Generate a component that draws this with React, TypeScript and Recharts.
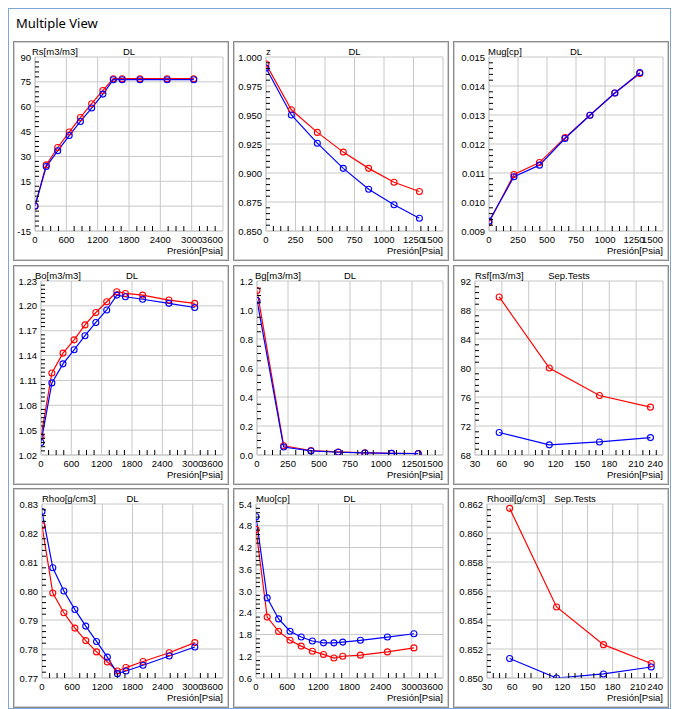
import React from "react";
import { LineChart, Line, XAxis, YAxis, ReferenceLine } from "recharts";

// pressures (psia)
const dlPressure = [0, 215, 435, 655, 870, 1085, 1300, 1500, 1670, 2010, 2530, 3040];
const gasPressure = [0, 215, 435, 655, 870, 1085, 1300];
const sepPressure = [57, 113, 169, 226];

// x tick labels
const dlTicks = [0, 600, 1200, 1800, 2400, 3000, 3600];
const gasTicks = [0, 250, 500, 750, 1000, 1250, 1500];
const sepTicks = [30, 60, 90, 120, 150, 180, 210, 240];

// series (red = lab, blue = model)
const rsRed = [0, 24.9, 35.4, 44.7, 53.5, 61.8, 69.8, 76.9, 76.9, 76.9, 76.9, 76.9];
const rsBlue = [0.1, 23.9, 33.4, 42.6, 51.1, 59.2, 67.6, 76.3, 76.3, 76.3, 76.3, 76.3];
const zRed = [0.994, 0.9545, 0.935, 0.918, 0.904, 0.892, 0.884];
const zBlue = [0.9905, 0.950, 0.9257, 0.904, 0.886, 0.8726, 0.861];
const mugRed = [0.00929, 0.01095, 0.01136, 0.01222, 0.01299, 0.01376, 0.01443];
const mugBlue = [0.00934, 0.01087, 0.01127, 0.01219, 0.01299, 0.01376, 0.01446];
const boRed = [1.042, 1.119, 1.143, 1.159, 1.177, 1.192, 1.205, 1.217, 1.215, 1.213, 1.207, 1.203];
const boBlue = [1.035, 1.107, 1.13, 1.147, 1.164, 1.18, 1.195, 1.213, 1.211, 1.208, 1.203, 1.198];
const bgRed = [1.135, 0.064, 0.031, 0.021, 0.015, 0.012, 0.01];
const bgBlue = [1.066, 0.055, 0.028, 0.019, 0.014, 0.011, 0.009];
const rsfRed = [89.8, 80.0, 76.2, 74.6];
const rsfBlue = [71.1, 69.4, 69.8, 70.4];
const rhooRed = [0.8225, 0.7993, 0.7925, 0.7872, 0.7829, 0.779, 0.7755, 0.7724, 0.7736, 0.7757, 0.7787, 0.7822];
const rhooBlue = [0.8274, 0.808, 0.8, 0.7936, 0.7879, 0.7826, 0.7772, 0.7715, 0.7724, 0.7744, 0.7776, 0.7807];
const muoRed = [4.7, 2.28, 1.885, 1.64, 1.48, 1.34, 1.25, 1.15, 1.2, 1.23, 1.32, 1.43];
const muoBlue = [5.05, 2.81, 2.23, 1.89, 1.73, 1.62, 1.57, 1.57, 1.59, 1.64, 1.73, 1.82];
const rhooilRed = [0.8617, 0.8549, 0.8523, 0.851];
const rhooilBlue = [0.85134, 0.8500, 0.85028, 0.85076];

// y tick labels
const rsTicks = [-15, 0, 15, 30, 45, 60, 75, 90];
const zTicks = [0.85, 0.875, 0.9, 0.925, 0.95, 0.975, 1.0];
const mugTicks = [0.009, 0.01, 0.011, 0.012, 0.013, 0.014, 0.015];
const boTicks = [1.02, 1.05, 1.08, 1.11, 1.14, 1.17, 1.2, 1.23];
const bgTicks = [0, 0.2, 0.4, 0.6, 0.8, 1.0, 1.2];
const rsfTicks = [68, 72, 76, 80, 84, 88, 92];
const rhooTicks = [0.77, 0.78, 0.79, 0.8, 0.81, 0.82, 0.83];
const muoTicks = [0.6, 1.2, 1.8, 2.4, 3.0, 3.6, 4.2, 4.8, 5.4];
const rhooilTicks = [0.85, 0.852, 0.854, 0.856, 0.858, 0.86, 0.862];

const FONT = "'Liberation Sans', Arial, sans-serif";
const FS = 9.5;
const GRID = "#c8c8c8";
const CW = 212;
const CH = 216;
const TOP = 14;
const RIGHT = 4;
const XH = 28;

type PanelDef = {
  title: string;
  test: string;
  xs: number[];
  red: number[];
  blue: number[];
  xTicks: number[];
  xMinor: number;
  yTicks: number[];
  yMinor: number;
  dec: number;
  yWidth: number;
  titleDx: number;
};

const panels: PanelDef[] = [
  { title: "Rs[m3/m3]", test: "DL", xs: dlPressure, red: rsRed, blue: rsBlue, xTicks: dlTicks, xMinor: 4, yTicks: rsTicks, yMinor: 5, dec: 0, yWidth: 20, titleDx: -3 },
  { title: "z", test: "DL", xs: gasPressure, red: zRed, blue: zBlue, xTicks: gasTicks, xMinor: 4, yTicks: zTicks, yMinor: 5, dec: 3, yWidth: 31, titleDx: 0 },
  { title: "Mug[cp]", test: "DL", xs: gasPressure, red: mugRed, blue: mugBlue, xTicks: gasTicks, xMinor: 4, yTicks: mugTicks, yMinor: 5, dec: 3, yWidth: 34, titleDx: -1 },
  { title: "Bo[m3/m3]", test: "DL", xs: dlPressure, red: boRed, blue: boBlue, xTicks: dlTicks, xMinor: 4, yTicks: boTicks, yMinor: 6, dec: 2, yWidth: 26, titleDx: -6 },
  { title: "Bg[m3/m3]", test: "DL", xs: gasPressure, red: bgRed, blue: bgBlue, xTicks: gasTicks, xMinor: 4, yTicks: bgTicks, yMinor: 4, dec: 1, yWidth: 22, titleDx: -2 },
  { title: "Rsf[m3/m3]", test: "Sep.Tests", xs: sepPressure, red: rsfRed, blue: rsfBlue, xTicks: sepTicks, xMinor: 4, yTicks: rsfTicks, yMinor: 5, dec: 0, yWidth: 20, titleDx: 0 },
  { title: "Rhoo[g/cm3]", test: "DL", xs: dlPressure, red: rhooRed, blue: rhooBlue, xTicks: dlTicks, xMinor: 4, yTicks: rhooTicks, yMinor: 5, dec: 2, yWidth: 27, titleDx: 0 },
  { title: "Muo[cp]", test: "DL", xs: dlPressure, red: muoRed, blue: muoBlue, xTicks: dlTicks, xMinor: 4, yTicks: muoTicks, yMinor: 5, dec: 1, yWidth: 21, titleDx: 0 },
  { title: "Rhooil[g/cm3]", test: "Sep.Tests", xs: sepPressure, red: rhooilRed, blue: rhooilBlue, xTicks: sepTicks, xMinor: 4, yTicks: rhooilTicks, yMinor: 5, dec: 3, yWidth: 32, titleDx: 0 },
];

function withMinor(major: number[], sub: number) {
  const out: number[] = [];
  for (let i = 0; i < major.length - 1; i++) {
    const step = (major[i + 1] - major[i]) / sub;
    for (let k = 0; k < sub; k++) out.push(major[i] + k * step);
  }
  out.push(major[major.length - 1]);
  return out;
}

const isIn = (arr: number[], v: number) => arr.some((m) => Math.abs(m - v) < 1e-9);

function YTick(props: any) {
  const { x, y, payload, majors, dec } = props;
  const v = payload.value as number;
  const ax = x + 4;
  const major = isIn(majors, v);
  return (
    <g>
      {!major && <line x1={ax} x2={ax + 4} y1={y} y2={y} stroke="#000" />}
      {major && (
        <text x={x} y={y} dy={3.5} textAnchor="end" fontSize={FS} fontFamily={FONT} fill="#000">
          {v.toFixed(dec)}
        </text>
      )}
    </g>
  );
}

function XTick(props: any) {
  const { x, y, payload, majors } = props;
  const v = payload.value as number;
  const major = isIn(majors, v);
  const last = Math.abs(v - majors[majors.length - 1]) < 1e-9;
  return (
    <g>
      {!major && <line x1={x} x2={x} y1={y} y2={y - 5} stroke="#000" />}
      {major && (
        <text x={x} y={y} dy={12} textAnchor={last ? "end" : "middle"} fontSize={FS} fontFamily={FONT} fill="#000">
          {v}
        </text>
      )}
    </g>
  );
}

function Panel({ def }: { def: PanelDef }) {
  const data = def.xs.map((p, i) => ({ p, red: def.red[i], blue: def.blue[i] }));
  const xMin = def.xTicks[0];
  const xMax = def.xTicks[def.xTicks.length - 1];
  const yMin = def.yTicks[0];
  const yMax = def.yTicks[def.yTicks.length - 1];
  const plotW = CW - def.yWidth - RIGHT;
  return (
    <div style={{ position: "relative", width: CW, height: CH }}>
      <LineChart width={CW} height={CH} data={data} margin={{ top: TOP, right: RIGHT, bottom: 0, left: 0 }}>
        <XAxis
          type="number"
          dataKey="p"
          domain={[xMin, xMax]}
          ticks={withMinor(def.xTicks, def.xMinor)}
          interval={0}
          tickLine={false}
          tickSize={0}
          tickMargin={0}
          axisLine={{ stroke: GRID }}
          height={XH}
          allowDataOverflow
          tick={(p: any) => <XTick {...p} majors={def.xTicks} />}
        />
        <YAxis
          type="number"
          domain={[yMin, yMax]}
          ticks={withMinor(def.yTicks, def.yMinor)}
          interval={0}
          tickLine={false}
          tickSize={0}
          tickMargin={4}
          axisLine={{ stroke: GRID }}
          width={def.yWidth}
          allowDataOverflow
          tick={(p: any) => <YTick {...p} majors={def.yTicks} dec={def.dec} />}
        />
        {def.yTicks.map((v) => (
          <ReferenceLine key={"y" + v} y={v} stroke={GRID} />
        ))}
        {def.xTicks.map((v) => (
          <ReferenceLine key={"x" + v} x={v} stroke={GRID} />
        ))}
        <Line
          dataKey="red"
          stroke="#ff0000"
          strokeWidth={1.2}
          dot={{ r: 3, stroke: "#ff0000", strokeWidth: 1.1, fill: "none" }}
          isAnimationActive={false}
        />
        <Line
          dataKey="blue"
          stroke="#0000ff"
          strokeWidth={1.2}
          dot={{ r: 3, stroke: "#0000ff", strokeWidth: 1.1, fill: "none" }}
          isAnimationActive={false}
        />
      </LineChart>
      <div
        style={{
          position: "absolute",
          left: def.yWidth + def.titleDx,
          top: 3,
          fontSize: FS,
          fontFamily: FONT,
          lineHeight: "12px",
          whiteSpace: "nowrap",
        }}
      >
        {def.title}
      </div>
      <div
        style={{
          position: "absolute",
          left: def.yWidth,
          width: plotW,
          top: 3,
          textAlign: "center",
          fontSize: FS,
          fontFamily: FONT,
          lineHeight: "12px",
        }}
      >
        {def.test}
      </div>
      <div
        style={{
          position: "absolute",
          right: RIGHT,
          top: 202,
          fontSize: FS,
          fontFamily: FONT,
          lineHeight: "12px",
        }}
      >
        Presión[Psia]
      </div>
    </div>
  );
}

export default function App() {
  return (
    <div
      style={{
        position: "relative",
        width: 663,
        height: 701,
        border: "1px solid #7ea6d6",
        boxSizing: "border-box",
        background: "#fff",
        overflow: "hidden",
      }}
    >
      <div
        style={{
          position: "absolute",
          left: 7,
          top: 5,
          fontFamily: "'Noto Sans', sans-serif",
          fontSize: 13,
          color: "#000",
        }}
      >
        Multiple View
      </div>
      {panels.map((def, i) => {
        const col = i % 3;
        const row = Math.floor(i / 3);
        return (
          <div
            key={def.title}
            style={{
              position: "absolute",
              left: 4 + col * 220,
              top: 32 + row * 223.5,
              width: 216,
              height: 220,
              boxSizing: "border-box",
              border: "1px solid #8c8c8c",
              boxShadow: "inset 0 0 0 1px #d0d0d0",
              padding: 1,
              background: "#fff",
            }}
          >
            <Panel def={def} />
          </div>
        );
      })}
    </div>
  );
}
